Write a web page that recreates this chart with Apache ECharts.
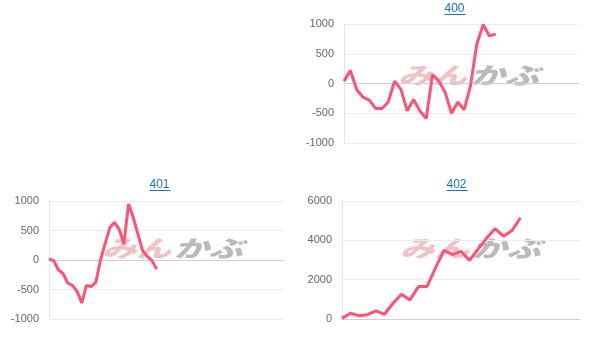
<!DOCTYPE html>
<html>
<head>
<meta charset="utf-8">
<script src="https://cdn.jsdelivr.net/npm/echarts@6/dist/echarts.min.js"></script>
<style>
html,body{margin:0;padding:0;background:#fff;}
#c{width:609px;height:349px;}
</style>
</head>
<body>
<div id="c"></div>
<script>
// ---- data ----
const titles = ['400', '401', '402'];
const categoryCount400 = 38;
const categoryCount401 = 51;
const categoryCount402 = 29;
const values400 = [40, 220, -100, -230, -280, -420, -420, -310, 40, -100, -460, -270, -460, -590, 150, 40, -150, -500, -310, -440, -40, 660, 990, 800, 830];
const values401 = [20, -10, -165, -230, -390, -430, -530, -730, -430, -450, -380, 0, 280, 550, 640, 520, 270, 950, 720, 440, 160, 60, -10, -155];
const values402 = [30, 290, 170, 220, 410, 240, 800, 1260, 970, 1650, 1650, 2600, 3490, 3270, 3440, 2980, 3550, 4100, 4590, 4210, 4500, 5150];
const yTicks400 = [-1000, 1000, 500];
const yTicks401 = [-1000, 1000, 500];
const yTicks402 = [0, 6000, 2000];

function cats(n){ return Array.from({length:n}, (_, i) => String(i + 1)); }
const categories400 = cats(categoryCount400);
const categories401 = cats(categoryCount401);
const categories402 = cats(categoryCount402);

const lineColor = '#ff5274';
const labelColor = '#666';
const gridColor = '#ebebeb';
const linkColor = '#1a6fd0';

const grids = [
  {left: 344, top: 24, width: 234, height: 119},
  {left: 49, top: 201, width: 234, height: 118},
  {left: 342, top: 201, width: 238, height: 118}
];
const cellCenters = [455, 160, 457];
const titleTops = [3, 179, 179];

function xAxis(i, data){
  return {type:'category', gridIndex:i, data:data, boundaryGap:false,
    axisLabel:{show:false}, axisTick:{show:false},
    axisLine:{show:true, onZero:true, lineStyle:{color:'#cfcfcf', width:1}},
    splitLine:{show:false}};
}
function yAxis(i, t){
  return {type:'value', gridIndex:i, min:t[0], max:t[1], interval:t[2],
    axisLabel:{color:labelColor, fontSize:11, fontFamily:'Liberation Sans, Arial, sans-serif', margin:10,
      formatter: v => String(v)},
    axisTick:{show:false},
    axisLine:{show:true, lineStyle:{color:'#e4e4e4'}},
    splitLine:{show:true, lineStyle:{color:gridColor}}};
}
function series(i, d){
  return {type:'line', xAxisIndex:i, yAxisIndex:i, data:d, showSymbol:false, symbol:'none',
    lineStyle:{color:lineColor, width:3}, itemStyle:{color:lineColor}, z:5, animation:false};
}

const wm = [[470, 80], [174, 253], [472, 253]];
const graphics = [];
wm.forEach(([cx, cy]) => {
  graphics.push({type:'text', left: cx - 72, top: cy - 16, z:-10, silent:true,
    style:{text:'みん', font:'italic 900 23px "Noto Sans CJK JP"', fill:'rgba(220,110,115,0.42)'} , scaleX:1.5});
  graphics.push({type:'text', left: cx + 0, top: cy - 16, z:-10, silent:true,
    style:{text:'かぶ', font:'italic 900 23px "Noto Sans CJK JP"', fill:'rgba(140,140,140,0.6)'}, scaleX:1.5});
});
titles.forEach((t, i) => {
  graphics.push({type:'rect', left: cellCenters[i] - 10.5, top: titleTops[i] + 11, z:10,
    shape:{width:21, height:1}, style:{fill:linkColor}});
});

const chart = echarts.init(document.getElementById('c'), null, {renderer:'canvas'});
chart.setOption({
  animation:false,
  title: titles.map((t, i) => ({text:t, link:'#', target:'self', left: cellCenters[i] - 10.5, top: titleTops[i], padding:0,
    textStyle:{color:linkColor, fontSize:12, fontWeight:'normal', fontFamily:'Liberation Sans, Arial, sans-serif'}})),
  grid: grids,
  xAxis: [xAxis(0, categories400), xAxis(1, categories401), xAxis(2, categories402)],
  yAxis: [yAxis(0, yTicks400), yAxis(1, yTicks401), yAxis(2, yTicks402)],
  series: [series(0, values400), series(1, values401), series(2, values402)],
  graphic: graphics
});
</script>
</body>
</html>
